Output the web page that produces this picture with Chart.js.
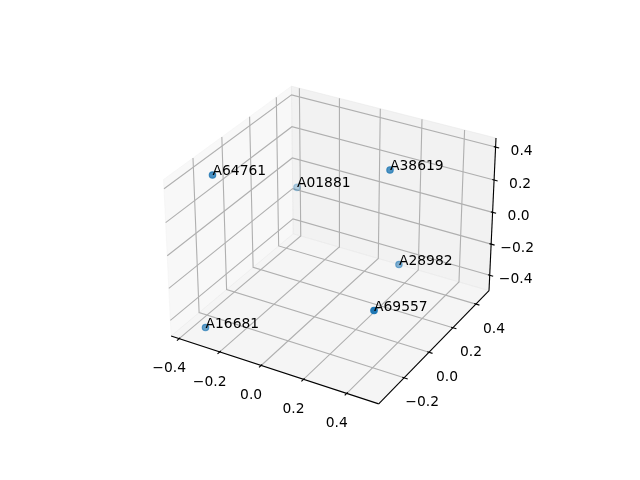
<!DOCTYPE html>
<html>
<head>
<meta charset="utf-8">
<script src="https://cdn.jsdelivr.net/npm/chart.js@4"></script>
<style>body{margin:0;background:#fff}canvas{display:block}</style>
</head>
<body>
<canvas id="chart" width="640" height="480"></canvas>
<script>
const names = ['A64761', 'A01881', 'A38619', 'A28982', 'A69557', 'A16681'];
const xs = [-0.308, -0.411, 0.287, 0.118, 0.517, -0.268];
const ys = [-0.255, 0.507, 0.109, 0.492, -0.393, -0.393];
const zs = [0.435, -0.175, 0.435, -0.477, 0.047, -0.377];
const shade = [0.8, 0.3, 0.78, 0.55, 1, 0.68];
const xTicks = [-0.4, -0.2, 0.0, 0.2, 0.4];
const yTicks = [-0.2, 0.0, 0.2, 0.4];
const zTicks = [-0.4, -0.2, 0.0, 0.2, 0.4];
const xLim = [-0.44, 0.545];
const yLim = [-0.396, 0.517];
const zLim = [-0.50, 0.454];

// same camera as a default mplot3d axes: elev 30, azim -60, box 4:4:3
const dist = 10, el = 30 * Math.PI / 180, az = -60 * Math.PI / 180;
const k = 1.8294640721620434 * 25 / 24 / Math.hypot(4, 4, 3);
const box = [4 * k, 4 * k, 3 * k];
const n = [Math.cos(el) * Math.cos(az), Math.cos(el) * Math.sin(az), Math.sin(el)];
const cross = (a, b) => [a[1]*b[2]-a[2]*b[1], a[2]*b[0]-a[0]*b[2], a[0]*b[1]-a[1]*b[0]];
const dot = (a, b) => a[0]*b[0] + a[1]*b[1] + a[2]*b[2];
const c0 = cross([0, 0, 1], n);
const u = c0.map(c => c / Math.hypot(...c0));
const v = cross(n, u);

function project(x, y, z) {
  const p = [
    ((x - xLim[0]) / (xLim[1] - xLim[0]) - 0.5) * box[0],
    ((y - yLim[0]) / (yLim[1] - yLim[0]) - 0.5) * box[1],
    ((z - zLim[0]) / (zLim[1] - zLim[0]) - 0.5) * box[2]
  ];
  const w = dist - dot(n, p);
  return {
    x: 143.2 + (dot(u, p) / w + 0.095) / 0.185 * 369.6,
    y: 52.8 + (dot(v, p) / w + 0.095) / 0.185 * 369.6
  };
}

const [x0, x1] = xLim, [y0, y1] = yLim, [z0, z1] = zLim;
const dx = (x1 - x0) / 12, dy = (y1 - y0) / 12;
const gridColor = '#b0b0b0', lw = 1.11;
const layers = [];

function line(pts, color) {
  layers.push({ data: pts, showLine: true, pointRadius: 0, borderColor: color, borderWidth: lw, fill: false });
}
function pane(pts, color) {
  layers.push({ data: pts.concat([pts[0]]), showLine: true, pointRadius: 0, borderColor: color, backgroundColor: color, borderWidth: 1, fill: 'shape' });
}

pane([project(x0,y0,z0), project(x0,y1,z0), project(x0,y1,z1), project(x0,y0,z1)], 'rgba(242,242,242,0.5)');
pane([project(x0,y1,z0), project(x1,y1,z0), project(x1,y1,z1), project(x0,y1,z1)], 'rgba(230,230,230,0.5)');
pane([project(x0,y0,z0), project(x1,y0,z0), project(x1,y1,z0), project(x0,y1,z0)], 'rgba(236,236,236,0.5)');

for (const t of xTicks) line([project(t,y0,z0), project(t,y1,z0), project(t,y1,z1)], gridColor);
for (const t of yTicks) line([project(x1,t,z0), project(x0,t,z0), project(x0,t,z1)], gridColor);
for (const t of zTicks) line([project(x0,y0,t), project(x0,y1,t), project(x1,y1,t)], gridColor);

line([project(x0,y0,z0), project(x1,y0,z0)], '#000');
line([project(x1,y0,z0), project(x1,y1,z0)], '#000');
line([project(x1,y1,z0), project(x1,y1,z1)], '#000');

// tick marks stick out 0.2 and in 0.1 of range/12
for (const t of xTicks) line([project(t, y0 + 0.1*dy, z0), project(t, y0 - 0.2*dy, z0)], '#000');
for (const t of yTicks) line([project(x1 - 0.1*dx, t, z0), project(x1 + 0.2*dx, t, z0)], '#000');
for (const t of zTicks) line([project(x1 - 0.1*dx, y1, t), project(x1 + 0.2*dx, y1, t)], '#000');

layers.push({
  data: xs.map((x, i) => project(x, ys[i], zs[i])),
  showLine: false,
  pointRadius: 3.2,
  pointBorderWidth: 1.2,
  pointBackgroundColor: shade.map(a => `rgba(31,119,180,${a})`),
  pointBorderColor: shade.map(a => `rgba(31,119,180,${a})`)
});

const fmt = t => (t < 0 ? '\u2212' : '') + Math.abs(t).toFixed(1);

const labelPlugin = {
  id: 'labels3d',
  afterDatasetsDraw(chart) {
    const { ctx, scales } = chart;
    const put = (p, text, ox, oy) => ctx.fillText(text, scales.x.getPixelForValue(p.x) + ox, scales.y.getPixelForValue(p.y) + oy);
    ctx.save();
    ctx.fillStyle = '#000';
    ctx.font = '13.89px "DejaVu Sans"';
    ctx.textAlign = 'center';
    ctx.textBaseline = 'middle';
    for (const t of xTicks) put(project(t, y0, z0), fmt(t), -10, 30);
    for (const t of yTicks) put(project(x1, t, z0), fmt(t), 18, 25);
    for (const t of zTicks) put(project(x1, y1, t), fmt(t), 26, 4);
    ctx.textAlign = 'left';
    ctx.textBaseline = 'alphabetic';
    names.forEach((name, i) => put(project(xs[i], ys[i], zs[i]), name, 0, 0));
    ctx.restore();
  }
};

new Chart(document.getElementById('chart'), {
  type: 'scatter',
  data: { datasets: layers.reverse() },
  options: {
    responsive: false,
    animation: false,
    layout: { autoPadding: false },
    plugins: { legend: { display: false }, tooltip: { enabled: false } },
    scales: {
      x: { display: false, min: 0, max: 640 },
      y: { display: false, min: 0, max: 480 }
    }
  },
  plugins: [labelPlugin]
});
</script>
</body>
</html>
